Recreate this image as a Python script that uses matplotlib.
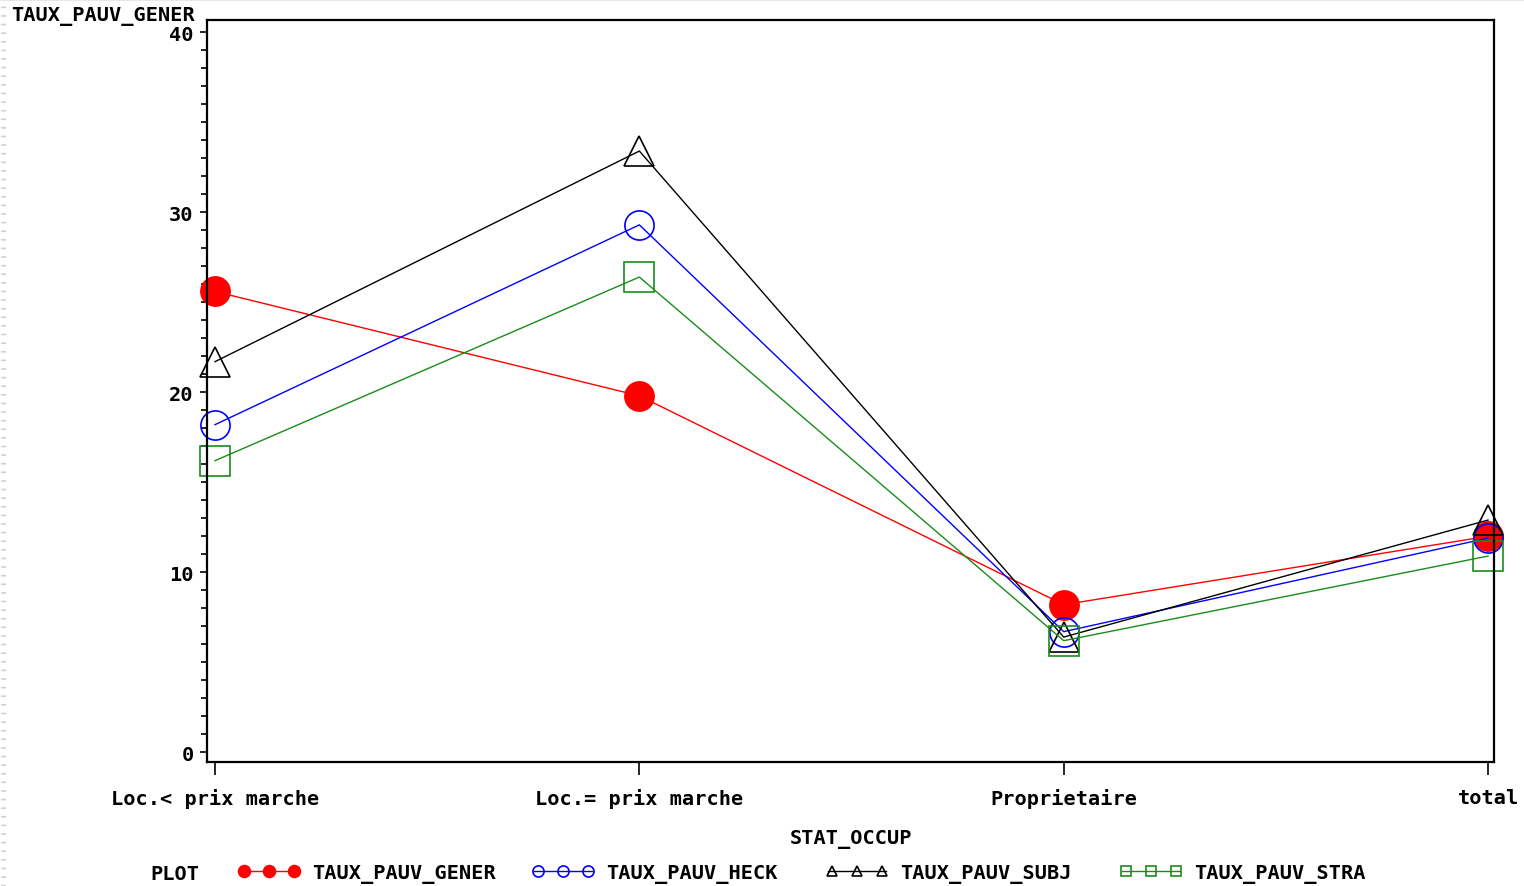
import matplotlib
matplotlib.use("Agg")
import matplotlib.pyplot as plt
from matplotlib.lines import Line2D
from matplotlib.ticker import MultipleLocator, FixedLocator

# ---- data ----
categories = ["Loc.< prix marche", "Loc.= prix marche", "Proprietaire", "total"]
taux_pauv_gener = [25.6, 19.8, 8.2, 12.0]
taux_pauv_heck = [18.2, 29.3, 6.7, 11.9]
taux_pauv_subj = [21.7, 33.4, 6.4, 12.9]
taux_pauv_stra = [16.2, 26.4, 6.2, 10.9]
series_names = ["TAUX_PAUV_GENER", "TAUX_PAUV_HECK", "TAUX_PAUV_SUBJ", "TAUX_PAUV_STRA"]
y_ticks = [0, 10, 20, 30, 40]
x_title = "STAT_OCCUP"
y_title = "TAUX_PAUV_GENER"

W, H = 1524, 887
FONT = "DejaVu Sans Mono"
FS = 14.6

plt.rcParams['lines.scale_dashes'] = False
fig = plt.figure(figsize=(W / 100, H / 100), dpi=100)
fig.patch.set_facecolor("white")

left, right, top, bottom = 207.5, 1494, 21, 763
ax = fig.add_axes([left / W, 1 - bottom / H, (right - left) / W, (bottom - top) / H])
ax.set_xlim(-0.0177, 3.014)
ax.set_ylim(-0.54, 40.68)

xs = list(range(len(categories)))
styles = [
    dict(color="#ff0000", marker="o", mfc="#ff0000", mec="#ff0000", ms=21),
    dict(color="#0000ff", marker="o", mfc="none", mec="#0000ff", ms=21),
    dict(color="#000000", marker="^", mfc="none", mec="#000000", ms=21.5),
    dict(color="#1a8c1a", marker="s", mfc="none", mec="#1a8c1a", ms=21.5),
]
all_series = [taux_pauv_gener, taux_pauv_heck, taux_pauv_subj, taux_pauv_stra]
for vals, st in zip(all_series, styles):
    ax.plot(xs, vals, lw=1.0, mew=1.2, clip_on=False, **st)

for sp in ax.spines.values():
    sp.set_linewidth(1.6)
    sp.set_color("black")

ax.yaxis.set_major_locator(FixedLocator(y_ticks))
ax.yaxis.set_minor_locator(MultipleLocator(1))
ax.tick_params(axis="y", which="major", direction="out", length=5, width=1.2, pad=5,
               labelsize=FS)
ax.tick_params(axis="y", which="minor", direction="out", length=4, width=1.2)
ax.set_xticks(xs)
ax.set_xticklabels(categories)
ax.tick_params(axis="x", which="major", direction="out", length=9, width=1.2, pad=10,
               labelsize=FS)
for lab in ax.get_xticklabels() + ax.get_yticklabels():
    lab.set_fontfamily(FONT)
    lab.set_fontweight("bold")

fig.text(11 / W, 1 - 17 / H, y_title, family=FONT, weight="bold", fontsize=FS,
         ha="left", va="center")
fig.text((left + right) / 2 / W, 1 - 840 / H, x_title, family=FONT, weight="bold",
         fontsize=FS, ha="center", va="center")

# ---- legend ----
ly = 1 - 875 / H
fig.text(150 / W, ly, "PLOT", family=FONT, weight="bold", fontsize=FS, ha="left", va="center")
leg_starts = [240, 534, 828, 1122]
leg_ms = [8.5, 8, 7, 7.5]
for st, name, x0, ms in zip(styles, series_names, leg_starts, leg_ms):
    fig.add_artist(Line2D([x0 / W, (x0 + 58) / W], [ly + 3 / H, ly + 3 / H],
                          transform=fig.transFigure, lw=1.0, color=st["color"]))
    fig.add_artist(Line2D([(x0 + 4) / W, (x0 + 29) / W, (x0 + 54) / W],
                          [ly + 3 / H] * 3, transform=fig.transFigure, lw=0,
                          marker=st["marker"], mfc=st["mfc"], mec=st["mec"], ms=ms, mew=1.2))
    fig.text((x0 + 72) / W, ly, name, family=FONT, weight="bold", fontsize=FS,
             ha="left", va="center")

# ---- faint page border decoration ----
fig.add_artist(Line2D([0, 1], [1 - 1 / H, 1 - 1 / H], transform=fig.transFigure,
                      lw=1.2, color="#e4e4e4"))
fig.add_artist(Line2D([2.5 / W, 2.5 / W], [0, 1], transform=fig.transFigure,
                      lw=3.5, color="#d0d0d0", linestyle=(0, (1.2, 5.0))))

fig.savefig("out.png", dpi=100, facecolor="white")
